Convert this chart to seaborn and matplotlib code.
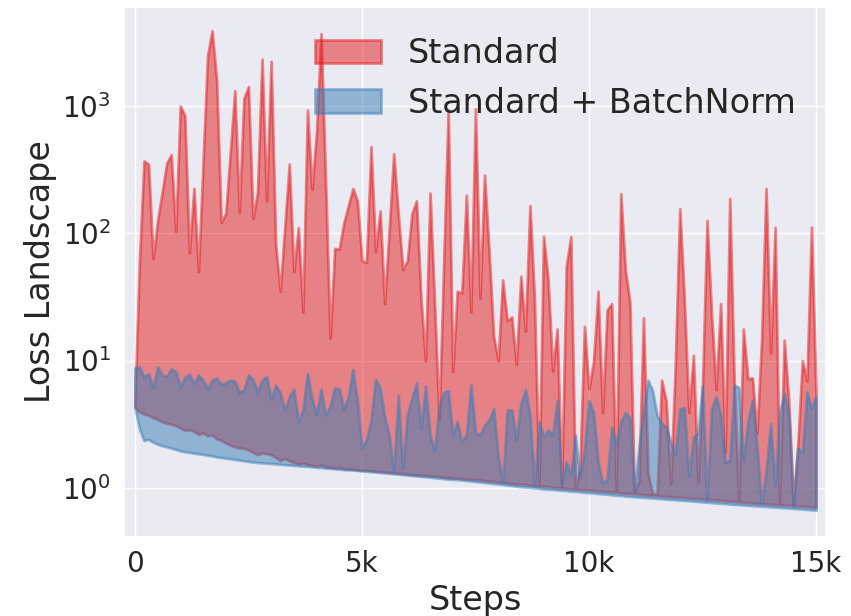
import numpy as np
import matplotlib
matplotlib.use("Agg")
import matplotlib.pyplot as plt
from matplotlib.ticker import FixedLocator, FixedFormatter, LogLocator, NullLocator
import seaborn as sns

# training steps (one logged value every 100 steps)
steps = np.arange(0, 15001, 100)

# Standard network: max / min loss along the gradient direction
standard_max = [
    5, 60, 370, 350, 63, 126, 210, 355, 415, 103,
    1000, 840, 70, 225, 50, 350, 2500, 3900, 1600, 122,
    143, 430, 1320, 146, 1150, 1420, 130, 210, 2330, 180,
    2250, 82, 35, 111, 350, 50, 111, 24, 930, 222,
    630, 3700, 250, 15, 76, 75, 120, 165, 225, 180,
    61, 59, 480, 72, 150, 28, 106, 422, 142, 52,
    61, 142, 180, 31, 9.9, 207, 28, 3.4, 57, 930,
    8.2, 35, 34, 199, 24, 950, 31, 286, 72, 15.5,
    10, 43, 20.5, 22, 9.3, 46, 17, 165, 30, 1.06,
    95, 43, 8.3, 17.7, 1.02, 55, 94, 1.0, 1.4, 18.6,
    6.0, 9.8, 35, 3.9, 25, 28, 0.95, 205, 52, 29,
    0.92, 1.13, 21.7, 1.29, 0.9, 0.9, 7.0, 4.8, 1.07, 9.0,
    156, 30, 3.9, 11, 1.1, 6.3, 126, 23, 5.9, 28,
    1.9, 188, 6.5, 0.8, 17.7, 7.2, 7.3, 2.7, 14, 225,
    11.5, 111, 0.76, 14.5, 4.8, 0.75, 2.2, 10, 6.9, 112,
    5.6,
]
standard_min = [
    4.30, 3.95, 3.80, 3.70, 3.55, 3.45, 3.30, 3.22, 3.15, 3.08,
    2.95, 2.82, 2.86, 2.78, 2.62, 2.70, 2.56, 2.60, 2.42, 2.36,
    2.25, 2.16, 2.10, 2.05, 2.04, 1.98, 1.90, 1.82, 1.88, 1.85,
    1.82, 1.73, 1.64, 1.70, 1.63, 1.58, 1.53, 1.56, 1.52, 1.50,
    1.48, 1.51, 1.46, 1.45, 1.43, 1.44, 1.41, 1.40, 1.40, 1.38,
    1.37, 1.37, 1.36, 1.35, 1.34, 1.33, 1.32, 1.31, 1.30, 1.29,
    1.28, 1.27, 1.26, 1.25, 1.245, 1.24, 1.23, 1.22, 1.21, 1.20,
    1.195, 1.19, 1.18, 1.17, 1.165, 1.16, 1.15, 1.14, 1.13, 1.12,
    1.11, 1.10, 1.09, 1.08, 1.07, 1.065, 1.06, 1.05, 1.04, 1.03,
    1.025, 1.02, 1.01, 1.00, 0.995, 0.99, 0.98, 0.975, 0.97, 0.965,
    0.96, 0.95, 0.945, 0.94, 0.93, 0.925, 0.92, 0.91, 0.905, 0.90,
    0.895, 0.89, 0.88, 0.875, 0.87, 0.865, 0.86, 0.855, 0.85, 0.845,
    0.84, 0.835, 0.83, 0.825, 0.82, 0.815, 0.81, 0.805, 0.80, 0.795,
    0.79, 0.785, 0.78, 0.775, 0.77, 0.765, 0.76, 0.755, 0.75, 0.746,
    0.742, 0.738, 0.734, 0.73, 0.726, 0.722, 0.718, 0.714, 0.71, 0.706,
    0.70,
]

# Standard + BatchNorm network: max / min loss along the gradient direction
bn_max = [
    8.8, 8.9, 7.4, 7.9, 6.1, 8.9, 7.7, 7.5, 8.6, 8.2,
    6.2, 7.4, 7.8, 6.6, 7.7, 7.0, 6.0, 7.0, 7.3, 6.5,
    6.7, 7.0, 6.9, 5.6, 5.9, 7.7, 7.1, 5.7, 7.0, 7.5,
    4.95, 6.4, 5.6, 4.05, 5.2, 5.95, 3.3, 4.1, 7.9, 5.0,
    3.8, 5.95, 3.7, 4.4, 6.1, 6.0, 4.15, 5.2, 8.5, 4.8,
    2.05, 2.4, 3.4, 7.1, 6.1, 3.6, 2.6, 1.33, 5.35, 1.43,
    3.8, 5.0, 6.7, 2.9, 6.3, 2.6, 1.95, 4.4, 5.6, 5.8,
    2.6, 3.3, 2.3, 2.6, 6.5, 2.7, 2.6, 3.1, 3.4, 4.2,
    1.8, 1.08, 4.1, 4.1, 2.38, 4.6, 5.9, 3.75, 1.05, 3.3,
    2.53, 2.85, 2.6, 4.9, 1.08, 1.6, 1.26, 2.6, 1.2, 1.95,
    4.85, 3.9, 1.6, 1.09, 1.16, 3.0, 2.2, 3.3, 3.9, 3.55,
    0.94, 2.1, 4.0, 7.0, 5.8, 3.7, 3.2, 3.0, 2.3, 1.85,
    4.15, 4.25, 1.23, 2.5, 2.7, 6.3, 0.8, 4.2, 5.2, 3.8,
    1.58, 1.64, 6.4, 6.15, 1.63, 3.35, 4.9, 2.1, 0.74, 1.36,
    3.2, 1.05, 4.0, 5.5, 3.8, 0.72, 2.05, 1.9, 5.7, 4.2,
    5.2,
]
bn_min = [
    4.30, 2.90, 2.35, 2.40, 2.28, 2.20, 2.14, 2.10, 2.05, 2.00,
    1.95, 1.92, 1.90, 1.87, 1.85, 1.83, 1.80, 1.78, 1.75, 1.73,
    1.71, 1.69, 1.67, 1.65, 1.63, 1.61, 1.59, 1.58, 1.57, 1.56,
    1.55, 1.54, 1.53, 1.52, 1.51, 1.50, 1.49, 1.48, 1.47, 1.46,
    1.45, 1.44, 1.43, 1.42, 1.41, 1.40, 1.39, 1.385, 1.38, 1.37,
    1.36, 1.35, 1.34, 1.33, 1.32, 1.31, 1.30, 1.29, 1.28, 1.27,
    1.26, 1.25, 1.24, 1.23, 1.22, 1.21, 1.20, 1.19, 1.18, 1.17,
    1.165, 1.16, 1.15, 1.14, 1.13, 1.12, 1.11, 1.10, 1.09, 1.08,
    1.07, 1.06, 1.05, 1.04, 1.03, 1.02, 1.015, 1.01, 1.00, 0.99,
    0.98, 0.975, 0.97, 0.96, 0.955, 0.95, 0.94, 0.935, 0.93, 0.92,
    0.915, 0.91, 0.90, 0.895, 0.89, 0.88, 0.875, 0.87, 0.86, 0.855,
    0.85, 0.845, 0.84, 0.835, 0.83, 0.825, 0.82, 0.815, 0.81, 0.805,
    0.80, 0.795, 0.79, 0.785, 0.78, 0.775, 0.77, 0.765, 0.76, 0.755,
    0.75, 0.745, 0.74, 0.736, 0.732, 0.728, 0.724, 0.72, 0.716, 0.712,
    0.708, 0.704, 0.70, 0.696, 0.692, 0.688, 0.684, 0.68, 0.675, 0.67,
    0.665,
]

series_labels = ["Standard", "Standard + BatchNorm"]
x_tick_values = [0, 5000, 10000, 15000]
x_tick_labels = ["0", "5k", "10k", "15k"]

sns.set_theme(style="darkgrid")
plt.rcParams["font.family"] = ["DejaVu Sans"]
palette = sns.color_palette("Set1")
red, blue = palette[0], palette[1]

fig, ax = plt.subplots(figsize=(8.51, 6.16), dpi=100)
fig.subplots_adjust(left=0.1457, right=0.9706, top=0.9886, bottom=0.1282)

ax.fill_between(steps, standard_min, standard_max, color=red, alpha=0.5,
                linewidth=2, label=series_labels[0])
ax.fill_between(steps, bn_min, bn_max, color=blue, alpha=0.5,
                linewidth=2, label=series_labels[1])

ax.set_yscale("log")
ax.set_ylim(0.41, 6000)
ax.set_xlim(-240, 15220)
ax.yaxis.set_major_locator(LogLocator(base=10, numticks=10))
ax.yaxis.set_minor_locator(NullLocator())
ax.xaxis.set_major_locator(FixedLocator(x_tick_values))
ax.xaxis.set_major_formatter(FixedFormatter(x_tick_labels))
ax.tick_params(axis="both", labelsize=20)

ax.set_xlabel("Steps", fontsize=24)
ax.set_ylabel("Loss Landscape", fontsize=24)
ax.legend(loc="upper right", fontsize=24, frameon=False)

fig.savefig("out.png", dpi=100)
